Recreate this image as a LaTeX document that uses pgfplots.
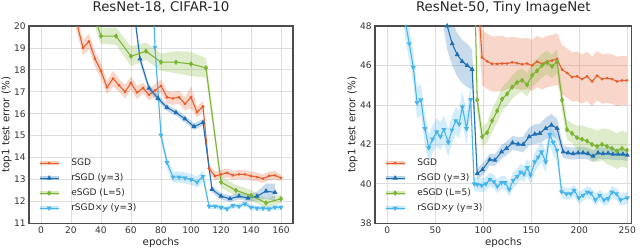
\documentclass[border=0pt]{standalone}
\usepackage{fontspec}
\setmainfont{DejaVu Sans}
\usepackage{pgfplots}
\pgfplotsset{compat=1.18}
\usepackage{pgfplotstable}
\usepgfplotslibrary{fillbetween}

\definecolor{csgd}{RGB}{232,92,42}
\definecolor{crsgd}{RGB}{30,110,180}
\definecolor{cesgd}{RGB}{122,180,50}
\definecolor{crsgdy}{RGB}{70,180,235}

% ---------- left: ResNet-18, CIFAR-10 ----------
\pgfplotstableread{
t y e
16 23.0 0.4
20 21.3 0.4
24 20.1 0.4
28 19.0 0.35
32 19.3 0.35
36 18.5 0.35
40 17.95 0.35
44 17.2 0.3
48 17.6 0.35
52 17.3 0.3
56 17.0 0.3
60 17.4 0.3
64 16.97 0.3
68 17.17 0.25
72 16.86 0.25
76 17.06 0.3
80 17.27 0.3
84 16.75 0.3
88 16.7 0.3
92 16.75 0.3
96 16.45 0.3
100 16.75 0.5
104 16.07 0.25
108 16.33 0.25
112 13.5 0.2
116 13.16 0.2
120 13.23 0.2
124 13.3 0.2
128 13.19 0.2
132 13.23 0.2
136 13.23 0.2
140 13.16 0.2
144 13.11 0.2
148 13.04 0.2
152 13.16 0.2
156 13.19 0.2
160 13.07 0.15
}\Lsgd
\pgfplotstableread{
t y e
60 21.8 0.3
66 18.5 0.2
72 17.17 0.15
78 16.7 0.15
84 16.28 0.15
90 16.05 0.15
96 15.76 0.15
102 15.41 0.15
108 15.6 0.15
114 12.55 0.15
120 12.24 0.15
126 12.12 0.15
132 12.24 0.15
138 12.15 0.15
144 12.24 0.2
150 12.47 0.35
156 12.41 0.4
}\Lrsgd
\pgfplotstableread{
t y e
30 21.5 0.4
40 19.54 0.35
50 19.54 0.4
60 18.62 0.45
70 18.85 0.4
80 18.35 0.4
90 18.35 0.5
100 18.27 0.55
110 18.09 0.45
120 12.88 0.25
130 12.5 0.25
140 12.27 0.25
150 11.93 0.2
160 12.12 0.2
}\Lesgd
\pgfplotstableread{
t y e
72 26.0 0.3
76 19.03 0.3
80 15.02 0.25
84 13.77 0.25
88 13.11 0.25
92 13.11 0.25
96 13.07 0.25
100 13.0 0.25
104 12.88 0.25
108 13.14 0.25
112 11.78 0.12
116 11.78 0.12
120 11.73 0.12
124 11.66 0.12
128 11.81 0.12
132 11.78 0.12
136 11.89 0.12
140 11.73 0.12
144 11.69 0.12
148 11.69 0.12
152 11.66 0.12
156 11.73 0.12
160 11.73 0.12
}\Lrsgdy

% ---------- right: ResNet-50, Tiny ImageNet ----------
\pgfplotstableread{
t y e
93.6 50.0 1.5
98.8 46.4 1.4
104 46.21 1.4
109.2 46.08 1.4
114.4 46.08 1.4
119.6 46.1 1.4
124.8 46.1 1.3
130 46.16 1.3
135.2 46.11 1.3
140.4 46.06 1.3
145.6 46.1 1.3
150.8 46.0 1.3
156 46.2 1.3
161.2 46.08 1.3
166.4 46.2 1.3
171.6 46.25 1.3
176.8 46.33 1.3
182 45.79 1.25
187.2 45.62 1.25
192.4 45.41 1.25
197.6 45.45 1.25
202.8 45.31 1.25
208 45.45 1.25
213.2 45.19 1.25
218.4 45.48 1.25
223.6 45.31 1.25
228.8 45.36 1.25
234 45.31 1.25
239.2 45.19 1.25
244.4 45.24 1.25
249.6 45.24 1.25
}\Rsgd
\pgfplotstableread{
t y e
52 51.0 1.5
57.2 49.5 1.2
62.4 48.0 1.2
67.6 47.1 1.1
72.8 46.55 1.1
78 46.2 1.1
83.2 46.0 1.1
88.4 45.8 1.0
93.6 40.52 0.3
99.2 40.72 0.3
106.8 41.23 0.3
112 41.2 0.3
119 41.62 0.35
124.2 41.8 0.35
130.4 42.08 0.35
136.3 42.01 0.35
141.5 42.0 0.4
147.7 42.39 0.45
153.6 42.52 0.5
158.8 42.56 0.5
165 42.81 0.55
171 42.98 0.55
176.8 42.81 0.5
183.1 41.62 0.3
188.3 41.57 0.3
193.5 41.53 0.3
198.7 41.57 0.3
203.9 41.57 0.3
209 41.53 0.3
214.3 41.4 0.3
219.5 41.57 0.3
224.7 41.53 0.3
229.9 41.55 0.3
235 41.5 0.3
240.3 41.5 0.3
245.5 41.5 0.3
250 41.45 0.3
}\Rrsgd
\pgfplotstableread{
t y e
91.5 49.0 0.6
93.6 44.25 0.6
98.8 42.39 0.5
104 42.6 0.5
109.2 43.2 0.6
114.4 43.7 0.6
119.6 44.3 0.6
124.8 44.56 0.6
130 44.9 0.6
135.2 45.14 0.6
140.4 45.25 0.6
145.6 45.02 0.6
150.8 45.5 0.6
156 45.73 0.6
161.2 46.0 0.6
166.4 46.15 0.6
171.6 45.95 0.6
176.8 46.2 0.6
182 44.25 0.6
187.2 42.75 0.5
192.4 42.56 0.5
197.6 42.34 0.6
202.8 42.26 0.7
208 42.17 0.7
213.2 42.0 0.8
218.4 41.9 0.8
223.6 42.0 0.8
228.8 41.9 0.9
234 41.8 0.9
239.2 41.65 0.9
244.4 41.8 0.9
249.6 41.7 0.9
}\Resgd
\pgfplotstableread{
t y e
14.5 50.5 1.0
18.8 48.2 0.9
22.9 47.1 0.8
27.1 45.9 0.8
31 44.12 0.8
35 44.26 0.8
39.2 42.8 0.8
43.2 41.82 0.7
47.2 42.27 0.7
51.4 42.63 0.7
55.3 42.4 0.7
59 42.75 0.7
63.5 42.1 0.7
67.3 42.73 0.7
71.3 43.2 0.7
74.8 43.03 0.7
78.2 43.9 0.8
82.5 42.8 0.8
86.9 44.27 0.8
90.5 40.0 0.35
93.6 39.97 0.35
98.2 39.92 0.35
102.7 40.0 0.35
106.8 40.23 0.35
111 40.1 0.35
114.5 39.88 0.35
119 40.06 0.35
122.5 40.06 0.35
127 39.72 0.35
131.1 40.18 0.4
135.3 40.37 0.4
138.8 40.6 0.4
142.3 40.5 0.4
145.7 40.82 0.45
149.2 40.45 0.45
153.6 41.11 0.5
157.1 41.36 0.5
160.6 41.62 0.55
165 41.11 0.55
169.2 42.5 0.6
172.7 42.1 0.6
176.8 41.7 0.6
181.4 39.6 0.3
186.6 39.5 0.3
191.1 39.5 0.3
194.6 39.67 0.3
199.4 39.29 0.3
203.9 39.42 0.3
208.4 39.58 0.3
211.9 39.53 0.3
216.7 39.19 0.3
221.2 39.42 0.3
225.7 39.19 0.3
229.9 39.25 0.3
234 39.58 0.3
238.6 39.5 0.3
243 39.19 0.3
250 39.29 0.3
}\Rrsgdy

\newcommand{\band}[3]{%
  \addplot[draw=none, forget plot, name path=#3u] table[x=t, y expr=\thisrow{y}+\thisrow{e}] {#1};
  \addplot[draw=none, forget plot, name path=#3l] table[x=t, y expr=\thisrow{y}-\thisrow{e}] {#1};
  \addplot[fill=#2, fill opacity=0.25, draw=none, forget plot] fill between[of=#3u and #3l];
}

\pgfplotsset{
  every axis title shift=0pt,
  myaxis/.style={
    scale only axis,
    height=148pt,
    axis line style={draw=black!70, line width=0.8pt},
    grid=major,
    major grid style={draw=black!13, line width=0.6pt},
    tick style={draw=none},
    tick label style={font=\fontsize{6.8}{8}\selectfont, text=black!80},
    /pgf/number format/assume math mode=true,
    xticklabel style={inner sep=0pt, yshift=-2.5pt},
    yticklabel style={inner sep=0pt, xshift=-2.25pt},
    label style={font=\fontsize{7.7}{9}\selectfont, text=black!85},
    title style={font=\fontsize{10}{12}\selectfont, text=black!85, at={(0.5,1)}, anchor=base, yshift=10.9pt},
    xlabel style={at={(0.5,0)}, anchor=base, yshift=-16.6pt},
    ylabel style={at={(0,0.5)}, anchor=center, yshift=16.8pt},
    xlabel={epochs},
    ylabel={top1 test error (\%)},
    legend cell align=left,
    legend style={draw=none, fill=none, at={(0,0)}, anchor=south west,
      xshift=6.4pt, yshift=8.1pt, inner sep=0pt,
      font=\fontsize{6.8}{8}\selectfont, text=black!85,
      row sep=4.95pt, column sep=8pt,
      nodes={inner sep=0pt, text height=5pt, text depth=1.3pt}},
    legend image code/.code={
      \draw[line width=2.6pt, draw opacity=0.3, mark=none] (0pt,0pt) -- (14.5pt,0pt);
      \draw[mark repeat=2, mark phase=2] plot coordinates {(0pt,0pt) (7.25pt,0pt) (14.5pt,0pt)};
    },
  },
  sgd/.style={color=csgd, line width=0.8pt, mark=*, mark size=0.6pt},
  rsgd/.style={color=crsgd, line width=0.8pt, mark=triangle*, mark size=1.4pt},
  esgd/.style={color=cesgd, line width=0.8pt, mark=diamond*, mark size=1.4pt},
  rsgdy/.style={color=crsgdy, line width=0.8pt, mark=triangle*, mark size=1.4pt, mark options={rotate=180}},
}

\begin{document}
\begin{tikzpicture}
\begin{axis}[myaxis, at={(0pt,0pt)}, anchor=south west,
  width=198pt, xmin=-8, xmax=168, ymin=11, ymax=20,
  xtick={0,20,...,160}, ytick={11,12,...,20},
  title={ResNet-18, CIFAR-10}]
  \band{\Lsgd}{csgd}{la}
  \band{\Lrsgd}{crsgd}{lb}
  \band{\Lesgd}{cesgd}{lc}
  \band{\Lrsgdy}{crsgdy}{ld}
  \addplot[sgd] table[x=t,y=y]{\Lsgd};
  \addplot[rsgd] table[x=t,y=y]{\Lrsgd};
  \addplot[esgd] table[x=t,y=y]{\Lesgd};
  \addplot[rsgdy] table[x=t,y=y]{\Lrsgdy};
  \legend{SGD, rSGD (y=3), eSGD (L=5), rSGD×\textit{y} (y=3)}
\end{axis}
\begin{axis}[myaxis, at={(259.5pt,0pt)}, anchor=south west,
  width=192.5pt, xmin=-12.8, xmax=254.5, ymin=38, ymax=48,
  xtick={0,50,...,250}, ytick={38,40,...,48},
  title={ResNet-50, Tiny ImageNet}]
  \band{\Rsgd}{csgd}{ra}
  \band{\Rrsgd}{crsgd}{rb}
  \band{\Resgd}{cesgd}{rc}
  \band{\Rrsgdy}{crsgdy}{rd}
  \addplot[sgd] table[x=t,y=y]{\Rsgd};
  \addplot[rsgd] table[x=t,y=y]{\Rrsgd};
  \addplot[esgd] table[x=t,y=y]{\Resgd};
  \addplot[rsgdy] table[x=t,y=y]{\Rrsgdy};
  \legend{SGD, rSGD (y=3), eSGD (L=5), rSGD×\textit{y} (y=3)}
\end{axis}
\pgfresetboundingbox
\useasboundingbox (-21.75pt,-20pt) rectangle (458.25pt,167.5pt);
\end{tikzpicture}
\end{document}
